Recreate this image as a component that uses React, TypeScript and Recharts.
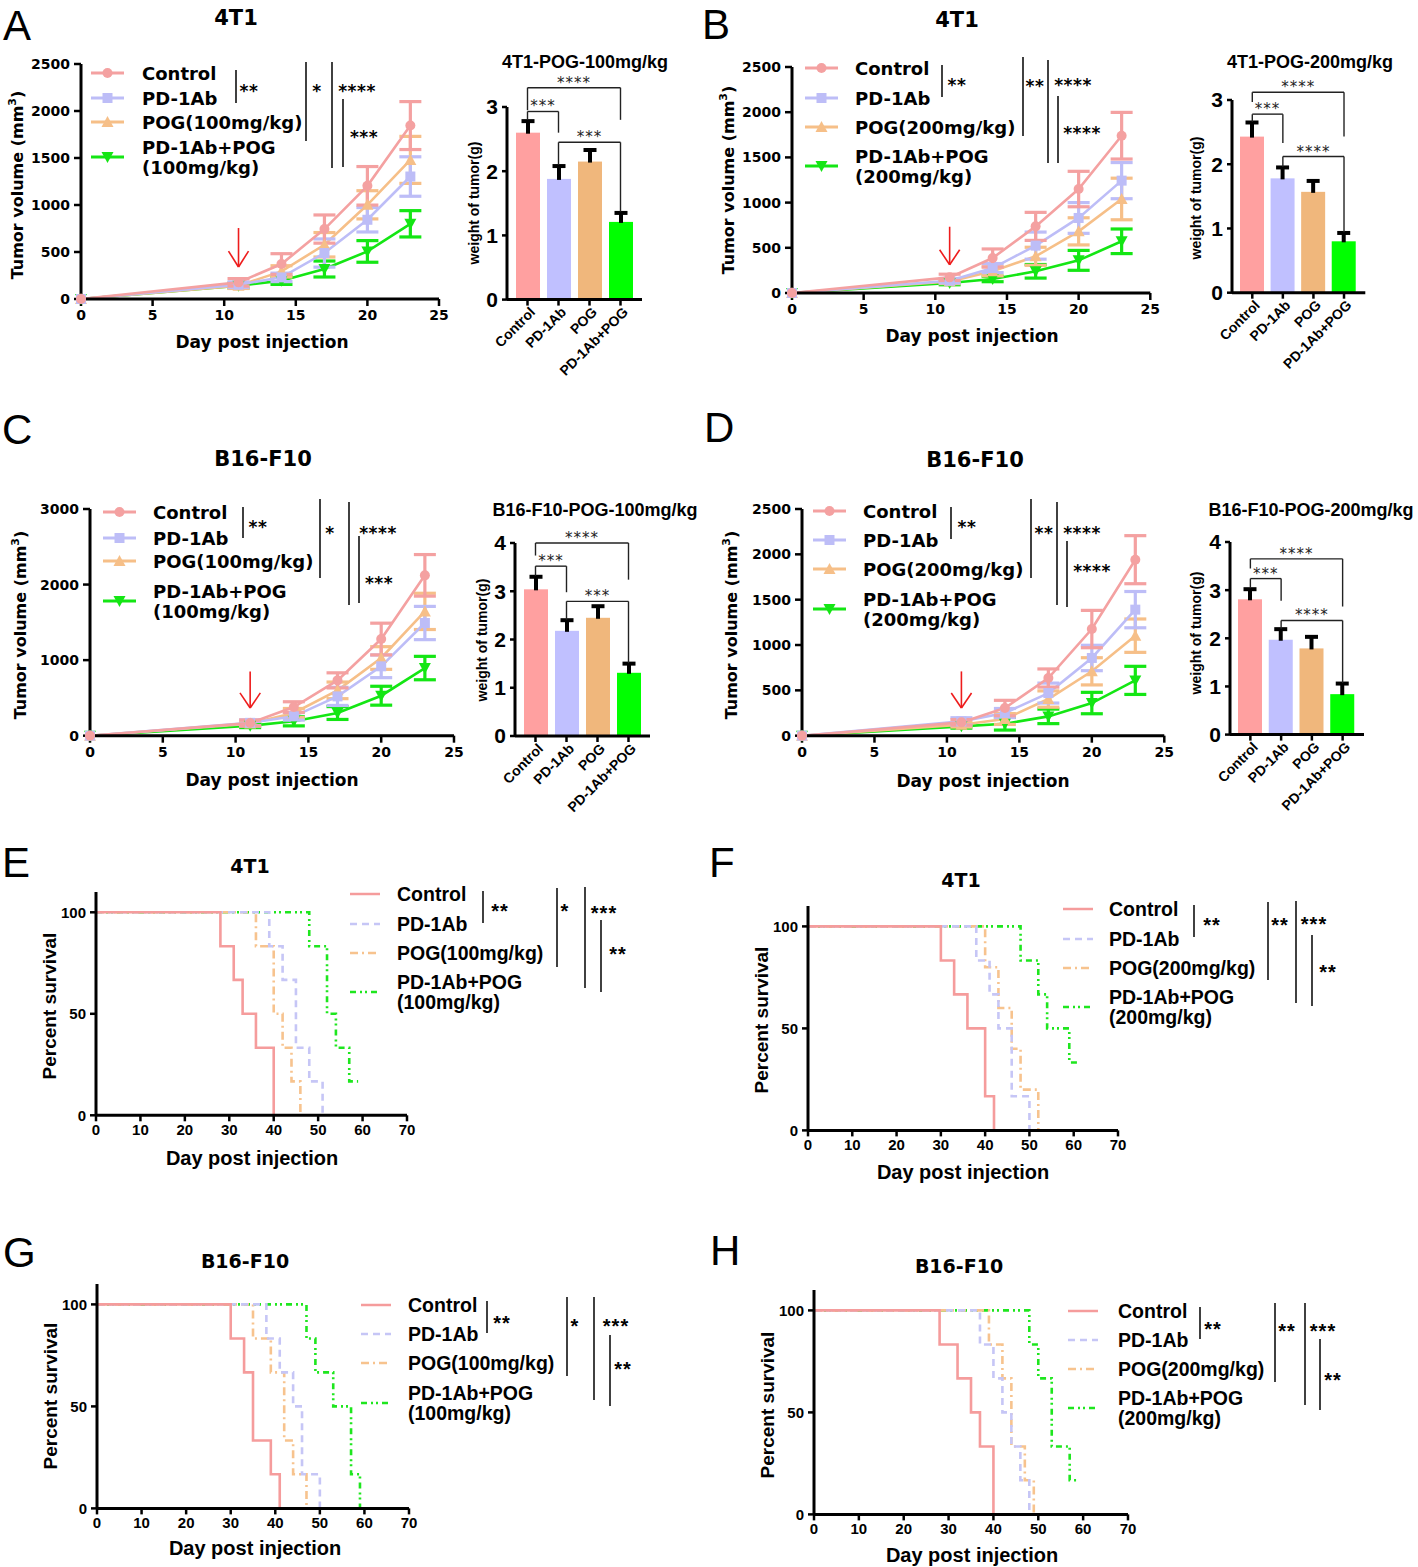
import React from 'react';
import {
  LineChart, Line, XAxis, YAxis, ErrorBar, BarChart, Bar, Cell, ReferenceLine, Legend,
} from 'recharts';

const DV = "'DejaVu Sans', Verdana, sans-serif";
const AR = "'Liberation Sans', Arial, Helvetica, sans-serif";

// ---------- tumor volume (mm3), mean and error ----------
const DAYS = [0, 11, 14, 17, 20, 23];

const A_CONTROL = [0, 177, 372, 744, 1204, 1845];
const A_CONTROL_ERR = [0, 40, 110, 150, 205, 255];
const A_PD1 = [0, 152, 230, 489, 843, 1303];
const A_PD1_ERR = [0, 30, 45, 150, 130, 210];
const A_POG = [0, 142, 294, 577, 1002, 1480];
const A_POG_ERR = [0, 30, 60, 130, 150, 250];
const A_COMBO = [0, 142, 195, 319, 506, 800];
const A_COMBO_ERR = [0, 25, 40, 85, 115, 140];

const B_CONTROL = [0, 173, 387, 737, 1150, 1740];
const B_CONTROL_ERR = [0, 35, 100, 155, 196, 258];
const B_PD1 = [0, 136, 276, 524, 830, 1243];
const B_PD1_ERR = [0, 25, 50, 150, 170, 200];
const B_POG = [0, 129, 240, 406, 682, 1040];
const B_POG_ERR = [0, 25, 50, 100, 150, 230];
const B_COMBO = [0, 111, 155, 240, 361, 572];
const B_COMBO_ERR = [0, 20, 30, 75, 110, 136];

const C_CONTROL = [0, 168, 379, 732, 1279, 2122];
const C_CONTROL_ERR = [0, 40, 70, 100, 210, 275];
const C_PD1 = [0, 170, 256, 520, 918, 1491];
const C_PD1_ERR = [0, 40, 50, 120, 150, 220];
const C_POG = [0, 160, 300, 600, 1028, 1645];
const C_POG_ERR = [0, 30, 60, 110, 150, 240];
const C_COMBO = [0, 132, 190, 300, 529, 895];
const C_COMBO_ERR = [0, 25, 60, 85, 125, 155];

const D_CONTROL = [0, 147, 305, 636, 1176, 1941];
const D_CONTROL_ERR = [0, 30, 85, 100, 206, 265];
const D_PD1 = [0, 158, 250, 470, 857, 1390];
const D_PD1_ERR = [0, 40, 50, 110, 140, 200];
const D_POG = [0, 121, 184, 404, 710, 1103];
const D_POG_ERR = [0, 25, 60, 90, 150, 184];
const D_COMBO = [0, 103, 132, 213, 360, 610];
const D_COMBO_ERR = [0, 20, 70, 80, 118, 155];

// ---------- tumor weight (g) ----------
const GROUPS = ['Control', 'PD-1Ab', 'POG', 'PD-1Ab+POG'];
const A_WEIGHT = [2.6, 1.88, 2.15, 1.21];
const A_WEIGHT_ERR = [0.18, 0.2, 0.18, 0.14];
const B_WEIGHT = [2.43, 1.78, 1.57, 0.8];
const B_WEIGHT_ERR = [0.22, 0.17, 0.17, 0.13];
const C_WEIGHT = [3.04, 2.18, 2.45, 1.31];
const C_WEIGHT_ERR = [0.26, 0.22, 0.24, 0.19];
const D_WEIGHT = [2.81, 1.97, 1.79, 0.84];
const D_WEIGHT_ERR = [0.21, 0.22, 0.24, 0.22];

// significance brackets (between groups, in g)
const A_BRACKETS = [
  { from: 'Control', to: 'PD-1Ab', y: 2.93, y1: 2.8, y2: 2.6, label: '***' },
  { from: 'Control', to: 'PD-1Ab+POG', y: 3.3, y1: 2.95, y2: 2.8, label: '****' },
  { from: 'PD-1Ab', to: 'PD-1Ab+POG', y: 2.45, y1: 2.1, y2: 1.37, label: '***' },
];
const B_BRACKETS = [
  { from: 'Control', to: 'PD-1Ab', y: 2.78, y1: 2.66, y2: 2.33, label: '***' },
  { from: 'Control', to: 'PD-1Ab+POG', y: 3.12, y1: 2.97, y2: 2.43, label: '****' },
  { from: 'PD-1Ab', to: 'PD-1Ab+POG', y: 2.12, y1: 1.96, y2: 0.94, label: '****' },
];
const C_BRACKETS = [
  { from: 'Control', to: 'PD-1Ab', y: 3.52, y1: 3.32, y2: 2.98, label: '***' },
  { from: 'Control', to: 'PD-1Ab+POG', y: 4.0, y1: 3.74, y2: 3.24, label: '****' },
  { from: 'PD-1Ab', to: 'PD-1Ab+POG', y: 2.79, y1: 2.41, y2: 1.51, label: '***' },
];
const D_BRACKETS = [
  { from: 'Control', to: 'PD-1Ab', y: 3.24, y1: 3.04, y2: 2.78, label: '***' },
  { from: 'Control', to: 'PD-1Ab+POG', y: 3.65, y1: 3.45, y2: 2.66, label: '****' },
  { from: 'PD-1Ab', to: 'PD-1Ab+POG', y: 2.37, y1: 2.2, y2: 1.07, label: '****' },
];

// ---------- survival (day, percent) ----------
const E_CONTROL_T = [0, 28, 31, 33, 36, 40];
const E_CONTROL_S = [100, 83.3, 66.7, 50, 33.3, 0];
const E_PD1_T = [0, 39, 42, 45, 48, 51];
const E_PD1_S = [100, 83.3, 66.7, 33.3, 16.7, 0];
const E_POG_T = [0, 36, 40, 42, 44, 46];
const E_POG_S = [100, 83.3, 50, 33.3, 16.7, 0];
const E_COMBO_T = [0, 48, 52, 54, 57, 59];
const E_COMBO_S = [100, 83.3, 50, 33.3, 16.7, 16.7];

const F_CONTROL_T = [0, 30, 33, 36, 40, 42];
const F_CONTROL_S = [100, 83.3, 66.7, 50, 16.7, 0];
const F_PD1_T = [0, 38, 41, 43, 46, 50];
const F_PD1_S = [100, 83.3, 66.7, 50, 16.7, 0];
const F_POG_T = [0, 40, 43, 46, 48, 52];
const F_POG_S = [100, 80, 60, 40, 20, 0];
const F_COMBO_T = [0, 48, 52, 54, 59, 61];
const F_COMBO_S = [100, 83.3, 66.7, 50, 33.3, 33.3];

const G_CONTROL_T = [0, 30, 33, 35, 39, 41];
const G_CONTROL_S = [100, 83.3, 66.7, 33.3, 16.7, 0];
const G_PD1_T = [0, 38, 41, 44, 46, 50];
const G_PD1_S = [100, 83.3, 66.7, 50, 16.7, 0];
const G_POG_T = [0, 35, 39, 42, 44, 47];
const G_POG_S = [100, 83.3, 66.7, 33.3, 16.7, 0];
const G_COMBO_T = [0, 47, 49, 53, 57, 59];
const G_COMBO_S = [100, 83.3, 66.7, 50, 16.7, 0];

const H_CONTROL_T = [0, 28, 32, 35, 37, 40];
const H_CONTROL_S = [100, 83.3, 66.7, 50, 33.3, 0];
const H_PD1_T = [0, 37, 40, 42, 44, 46, 48];
const H_PD1_S = [100, 83.3, 66.7, 50, 33.3, 16.7, 0];
const H_POG_T = [0, 39, 42, 44, 47, 49];
const H_POG_S = [100, 83.3, 66.7, 33.3, 16.7, 0];
const H_COMBO_T = [0, 48, 50, 53, 57, 59];
const H_COMBO_S = [100, 83.3, 66.7, 33.3, 16.7, 16.7];

const GROWTH_X_TICKS = [0, 5, 10, 15, 20, 25];
const SURV_X_TICKS = [0, 10, 20, 30, 40, 50, 60, 70];

// ---------- styles ----------
const KEYS = ['c', 'p', 'g', 'm'];
const SHAPES = ['circle', 'square', 'up', 'down'];
const LINE_COLORS = ['#F4A1A1', '#BDBDF7', '#F6BF88', '#14E614'];
const BAR_COLORS = ['#FFA0A0', '#C0C0FF', '#F0B77C', '#00FF00'];
const SURV_COLORS = ['#F59C9C', '#C6C6F6', '#F7C38E', '#1EE61E'];
const SURV_DASH = [undefined, '7 5', '8 4 2 4', '6 4 2 3 2 4'];
const AXIS = { stroke: '#000', strokeWidth: 3 };
const TICK = { stroke: '#000', strokeWidth: 2.5 };

const growthRows = (means: number[][], errs: number[][]) =>
  DAYS.map((day, i) => {
    const r: any = { day };
    KEYS.forEach((k, j) => {
      r[k] = means[j][i];
      r[k + 'e'] = errs[j][i];
    });
    return r;
  });

const weightRows = (w: number[], e: number[]) => GROUPS.map((group, i) => ({ group, w: w[i], e: e[i] }));
const survRows = (t: number[], s: number[]) => t.map((d, i) => ({ t: d, s: s[i] }));

const Marker = ({ shape, x, y, color, s = 5 }: any) => {
  if (shape === 'circle') return <circle cx={x} cy={y} r={s} fill={color} />;
  if (shape === 'square') return <rect x={x - s} y={y - s} width={2 * s} height={2 * s} fill={color} />;
  if (shape === 'up') return <polygon points={`${x},${y - s - 1} ${x + s + 1},${y + s} ${x - s - 1},${y + s}`} fill={color} />;
  return <polygon points={`${x},${y + s + 1} ${x + s + 1},${y - s} ${x - s - 1},${y - s}`} fill={color} />;
};

const GrowthLegend = ({ rows, dose, textDx }: any) => {
  const labels = ['Control', 'PD-1Ab', `POG(${dose})`, 'PD-1Ab+POG'];
  const top = rows[0] - 14;
  return (
    <svg width={260} height={rows[3] - top + 36} style={{ display: 'block', overflow: 'visible' }}>
      {labels.map((lab, i) => {
        const y = rows[i] - top;
        const my = i === 3 ? y + 10 : y;
        return (
          <g key={lab}>
            <line x1={0} x2={33} y1={my} y2={my} stroke={LINE_COLORS[i]} strokeWidth={3} />
            <Marker shape={SHAPES[i]} x={16.5} y={my} color={LINE_COLORS[i]} />
            <text x={textDx} y={y + 6.5} fontFamily={DV} fontWeight={700} fontSize={18} fill="#000">{lab}</text>
            {i === 3 && (
              <text x={textDx} y={y + 26.5} fontFamily={DV} fontWeight={700} fontSize={18} fill="#000">({dose})</text>
            )}
          </g>
        );
      })}
    </svg>
  );
};

const SurvLegend = ({ rows, dose, textDx }: any) => {
  const labels = ['Control', 'PD-1Ab', `POG(${dose})`, 'PD-1Ab+POG'];
  const top = rows[0] - 14;
  return (
    <svg width={260} height={rows[3] - top + 36} style={{ display: 'block', overflow: 'visible' }}>
      {labels.map((lab, i) => {
        const y = rows[i] - top;
        const my = i === 3 ? y + 10 : y;
        return (
          <g key={lab}>
            <line x1={0} x2={30} y1={my} y2={my} stroke={SURV_COLORS[i]} strokeWidth={2.5} strokeDasharray={SURV_DASH[i]} />
            <text x={textDx} y={y + 7} fontFamily={AR} fontWeight={700} fontSize={19.5} fill="#000">{lab}</text>
            {i === 3 && (
              <text x={textDx} y={y + 27} fontFamily={AR} fontWeight={700} fontSize={19.5} fill="#000">({dose})</text>
            )}
          </g>
        );
      })}
    </svg>
  );
};

function GrowthChart({ cfg }: any) {
  const { x0, x1, yTop, yBottom } = cfg.box;
  const YW = 64, MT = 14, MR = 14, XH = 36;
  const left = x0 - YW;
  const top = yTop - MT;
  const width = YW + (x1 - x0) + MR;
  const height = MT + (yBottom - yTop) + XH;
  const a = cfg.arrow;
  const arrowStyle = { stroke: '#EE1C1C', strokeWidth: 1.6 };
  return (
    <div style={{ position: 'absolute', left, top, width, height }}>
      <LineChart width={width} height={height} data={cfg.rows} margin={{ top: MT, right: MR, left: 0, bottom: 0 }}>
        <XAxis
          dataKey="day" type="number" domain={[0, 25]} ticks={GROWTH_X_TICKS} interval={0}
          height={XH} tickSize={7} tickMargin={4} axisLine={AXIS} tickLine={TICK}
          tick={{ fill: '#000', fontSize: 14, fontWeight: 700, fontFamily: DV }}
        />
        <YAxis
          type="number" domain={[0, cfg.yMax]} ticks={cfg.yTicks} interval={0}
          width={YW} tickSize={7} tickMargin={4} axisLine={AXIS} tickLine={TICK}
          tick={{ fill: '#000', fontSize: 14, fontWeight: 700, fontFamily: DV }}
        />
        <ReferenceLine segment={[{ x: 11, y: a.top }, { x: 11, y: a.tip }]} {...arrowStyle} />
        <ReferenceLine segment={[{ x: 10.3, y: a.tip + a.head }, { x: 11, y: a.tip }]} {...arrowStyle} />
        <ReferenceLine segment={[{ x: 11.7, y: a.tip + a.head }, { x: 11, y: a.tip }]} {...arrowStyle} />
        {[3, 2, 1, 0].map((j) => (
          <Line
            key={KEYS[j]} dataKey={KEYS[j]} type="linear" stroke={LINE_COLORS[j]} strokeWidth={2.6}
            isAnimationActive={false} activeDot={false}
            dot={(p: any) => <Marker key={`${KEYS[j]}-${p.index}`} shape={SHAPES[j]} x={p.cx} y={p.cy} color={LINE_COLORS[j]} />}
          >
            <ErrorBar dataKey={KEYS[j] + 'e'} direction="y" width={11} strokeWidth={3.2} stroke={LINE_COLORS[j]} />
          </Line>
        ))}
        <Legend
          layout="vertical" align="center" verticalAlign="middle"
          wrapperStyle={{ left: cfg.legend.lineX - left, top: cfg.legend.rows[0] - 14 - top }}
          content={() => <GrowthLegend rows={cfg.legend.rows} dose={cfg.dose} textDx={cfg.legend.textX - cfg.legend.lineX} />}
        />
      </LineChart>
    </div>
  );
}

const WeightBar = (props: any) => {
  const { x, y, width, height, fill, payload } = props;
  if (!payload || !payload.w) return <g />;
  const k = height / payload.w;
  const errTop = y - payload.e * k;
  const cx = x + width / 2;
  return (
    <g>
      <rect x={x} y={y} width={width} height={height} fill={fill} />
      <line x1={cx} x2={cx} y1={y + 1} y2={errTop} stroke="#000" strokeWidth={4} />
      <line x1={cx - 6.5} x2={cx + 6.5} y1={errTop} y2={errTop} stroke="#000" strokeWidth={4} />
    </g>
  );
};

const CatTick = ({ x, y, payload }: any) => (
  <g transform={`translate(${x + 5},${y + 2}) rotate(-45)`}>
    <text x={0} y={0} dy="0.35em" textAnchor="end" fontFamily={AR} fontWeight={700} fontSize={14} fill="#000">
      {payload.value}
    </text>
  </g>
);

function WeightChart({ cfg }: any) {
  const { x0, x1, yTop, yBottom } = cfg.box;
  const YW = 40, MT = 40, MR = 8, XH = 100;
  const left = x0 - YW;
  const top = yTop - MT;
  const width = YW + (x1 - x0) + MR;
  const height = MT + (yBottom - yTop) + XH;
  const line = { stroke: '#222', strokeWidth: 1.4, ifOverflow: 'visible' as const };
  const yTicks = Array.from({ length: cfg.yMax + 1 }, (_, i) => i);
  return (
    <div style={{ position: 'absolute', left, top, width, height }}>
      <BarChart width={width} height={height} data={cfg.rows} margin={{ top: MT, right: MR, left: 0, bottom: 0 }}>
        <XAxis
          dataKey="group" type="category" interval={0} padding={{ left: 5, right: 6 }}
          height={XH} tickSize={6} tickMargin={2} axisLine={AXIS} tickLine={TICK} tick={<CatTick />}
        />
        <YAxis
          type="number" domain={[0, cfg.yMax]} ticks={yTicks} interval={0}
          width={YW} tickSize={5} tickMargin={4} axisLine={AXIS} tickLine={TICK}
          tick={{ fill: '#000', fontSize: 21, fontWeight: 700, fontFamily: AR }}
        />
        <Bar dataKey="w" barSize={24} shape={<WeightBar />} isAnimationActive={false}>
          {cfg.rows.map((r: any, i: number) => <Cell key={r.group} fill={BAR_COLORS[i]} />)}
        </Bar>
        {cfg.brackets.map((b: any, i: number) => (
          <ReferenceLine
            key={`h${i}`} segment={[{ x: b.from, y: b.y }, { x: b.to, y: b.y }]} {...line}
            label={{ value: b.label, position: 'top', offset: 0, fontSize: 15, fill: '#222', fontFamily: DV, letterSpacing: 1 }}
          />
        ))}
        {cfg.brackets.map((b: any, i: number) => (
          <ReferenceLine key={`l${i}`} segment={[{ x: b.from, y: b.y }, { x: b.from, y: b.y1 }]} {...line} />
        ))}
        {cfg.brackets.map((b: any, i: number) => (
          <ReferenceLine key={`r${i}`} segment={[{ x: b.to, y: b.y }, { x: b.to, y: b.y2 }]} {...line} />
        ))}
      </BarChart>
    </div>
  );
}

function SurvivalChart({ cfg }: any) {
  const { x0, x1, yTop, yBottom } = cfg.box;
  const YW = 46, MT = 10, MR = 14, XH = 32;
  const left = x0 - YW;
  const top = yTop - MT;
  const width = YW + (x1 - x0) + MR;
  const height = MT + (yBottom - yTop) + XH;
  return (
    <div style={{ position: 'absolute', left, top, width, height }}>
      <LineChart width={width} height={height} margin={{ top: MT, right: MR, left: 0, bottom: 0 }}>
        <XAxis
          dataKey="t" type="number" domain={[0, 70]} ticks={SURV_X_TICKS} interval={0}
          height={XH} tickSize={6} tickMargin={3} axisLine={AXIS} tickLine={TICK}
          tick={{ fill: '#000', fontSize: 15, fontWeight: 700, fontFamily: AR }}
        />
        <YAxis
          type="number" domain={[0, 110]} ticks={[0, 50, 100]} interval={0}
          width={YW} tickSize={6} tickMargin={4} axisLine={AXIS} tickLine={TICK}
          tick={{ fill: '#000', fontSize: 15, fontWeight: 700, fontFamily: AR }}
        />
        {[3, 2, 1, 0].map((j) => (
          <Line
            key={KEYS[j]} data={cfg.curves[j]} dataKey="s" type="stepAfter"
            stroke={SURV_COLORS[j]} strokeWidth={2.6} strokeDasharray={SURV_DASH[j]}
            dot={false} activeDot={false} isAnimationActive={false}
          />
        ))}
        <Legend
          layout="vertical" align="center" verticalAlign="middle"
          wrapperStyle={{ left: cfg.legend.lineX - left, top: cfg.legend.rows[0] - 14 - top }}
          content={() => <SurvLegend rows={cfg.legend.rows} dose={cfg.dose} textDx={cfg.legend.textX - cfg.legend.lineX} />}
        />
      </LineChart>
    </div>
  );
}

// ---------- panel configs ----------
const GROWTH = [
  {
    rows: growthRows([A_CONTROL, A_PD1, A_POG, A_COMBO], [A_CONTROL_ERR, A_PD1_ERR, A_POG_ERR, A_COMBO_ERR]),
    box: { x0: 81, x1: 439, yTop: 64, yBottom: 299 }, yMax: 2500, yTicks: [0, 500, 1000, 1500, 2000, 2500],
    dose: '100mg/kg', legend: { lineX: 91, textX: 142, rows: [73, 98, 122, 147] },
    arrow: { top: 755, tip: 340, head: 170 },
  },
  {
    rows: growthRows([B_CONTROL, B_PD1, B_POG, B_COMBO], [B_CONTROL_ERR, B_PD1_ERR, B_POG_ERR, B_COMBO_ERR]),
    box: { x0: 791.7, x1: 1150, yTop: 67.3, yBottom: 293.3 }, yMax: 2500, yTicks: [0, 500, 1000, 1500, 2000, 2500],
    dose: '200mg/kg', legend: { lineX: 805, textX: 855, rows: [68, 98, 127, 156] },
    arrow: { top: 733, tip: 313, head: 165 },
  },
  {
    rows: growthRows([C_CONTROL, C_PD1, C_POG, C_COMBO], [C_CONTROL_ERR, C_PD1_ERR, C_POG_ERR, C_COMBO_ERR]),
    box: { x0: 90, x1: 454, yTop: 509.3, yBottom: 736 }, yMax: 3000, yTicks: [0, 1000, 2000, 3000],
    dose: '100mg/kg', legend: { lineX: 103, textX: 153, rows: [512, 538, 561, 591] },
    arrow: { top: 851, tip: 366, head: 200 },
  },
  {
    rows: growthRows([D_CONTROL, D_PD1, D_POG, D_COMBO], [D_CONTROL_ERR, D_PD1_ERR, D_POG_ERR, D_COMBO_ERR]),
    box: { x0: 801.7, x1: 1164, yTop: 509.3, yBottom: 736 }, yMax: 2500, yTicks: [0, 500, 1000, 1500, 2000, 2500],
    dose: '200mg/kg', legend: { lineX: 813, textX: 863, rows: [511, 540, 569, 599] },
    arrow: { top: 709, tip: 305, head: 165 },
  },
];

const WEIGHT = [
  { rows: weightRows(A_WEIGHT, A_WEIGHT_ERR), brackets: A_BRACKETS, yMax: 3, box: { x0: 507, x1: 642, yTop: 106.7, yBottom: 299.3 } },
  { rows: weightRows(B_WEIGHT, B_WEIGHT_ERR), brackets: B_BRACKETS, yMax: 3, box: { x0: 1231.7, x1: 1365, yTop: 100, yBottom: 292.7 } },
  { rows: weightRows(C_WEIGHT, C_WEIGHT_ERR), brackets: C_BRACKETS, yMax: 4, box: { x0: 515, x1: 650, yTop: 542.7, yBottom: 735.7 } },
  { rows: weightRows(D_WEIGHT, D_WEIGHT_ERR), brackets: D_BRACKETS, yMax: 4, box: { x0: 1230, x1: 1364, yTop: 541.7, yBottom: 734.3 } },
];

const SURVIVAL = [
  {
    curves: [survRows(E_CONTROL_T, E_CONTROL_S), survRows(E_PD1_T, E_PD1_S), survRows(E_POG_T, E_POG_S), survRows(E_COMBO_T, E_COMBO_S)],
    box: { x0: 96, x1: 407, yTop: 891.7, yBottom: 1115 }, dose: '100mg/kg',
    legend: { lineX: 350, textX: 397, rows: [894, 924, 953, 982] },
  },
  {
    curves: [survRows(F_CONTROL_T, F_CONTROL_S), survRows(F_PD1_T, F_PD1_S), survRows(F_POG_T, F_POG_S), survRows(F_COMBO_T, F_COMBO_S)],
    box: { x0: 808, x1: 1118, yTop: 905.6, yBottom: 1130 }, dose: '200mg/kg',
    legend: { lineX: 1063, textX: 1109, rows: [909, 939, 968, 997] },
  },
  {
    curves: [survRows(G_CONTROL_T, G_CONTROL_S), survRows(G_PD1_T, G_PD1_S), survRows(G_POG_T, G_POG_S), survRows(G_COMBO_T, G_COMBO_S)],
    box: { x0: 97, x1: 409, yTop: 1283.6, yBottom: 1508 }, dose: '100mg/kg',
    legend: { lineX: 361, textX: 408, rows: [1305, 1334, 1363, 1393] },
  },
  {
    curves: [survRows(H_CONTROL_T, H_CONTROL_S), survRows(H_PD1_T, H_PD1_S), survRows(H_POG_T, H_POG_S), survRows(H_COMBO_T, H_COMBO_S)],
    box: { x0: 814, x1: 1128, yTop: 1289.6, yBottom: 1514 }, dose: '200mg/kg',
    legend: { lineX: 1068, textX: 1118, rows: [1311, 1340, 1369, 1398] },
  },
];

// ---------- figure annotations (page coordinates) ----------
const LETTERS: [string, number, number][] = [
  ['A', 3, 40], ['B', 702, 39], ['C', 2, 444], ['D', 704, 442],
  ['E', 2, 877], ['F', 709, 877], ['G', 3, 1267], ['H', 710, 1265],
];
const GROWTH_TITLES: [string, number, number][] = [
  ['4T1', 236, 25], ['4T1', 957, 27], ['B16-F10', 263, 466], ['B16-F10', 975, 467],
];
const SURV_TITLES: [string, number, number][] = [
  ['4T1', 250, 873], ['4T1', 961, 887], ['B16-F10', 245, 1268], ['B16-F10', 959, 1273],
];
const BAR_TITLES: [string, number, number][] = [
  ['4T1-POG-100mg/kg', 585, 68], ['4T1-POG-200mg/kg', 1310, 68],
  ['B16-F10-POG-100mg/kg', 595, 516], ['B16-F10-POG-200mg/kg', 1311, 516],
];
const GROWTH_YLAB: [number, number][] = [[17, 185], [728, 180], [20, 625], [731, 625]];
const GROWTH_XLAB: [number, number][] = [[262, 348], [972, 342], [272, 786], [983, 787]];
const BAR_YLAB: [number, number][] = [[474, 203], [1196, 198], [482, 640], [1196, 633]];
const SURV_YLAB: [number, number][] = [[49, 1006], [761, 1020], [50, 1396], [767, 1405]];
const SURV_XLAB: [number, number][] = [[252, 1165], [963, 1179], [255, 1555], [972, 1562]];

const GROWTH_SIG = [
  { lines: [[236, 70, 103], [306, 62, 141], [332, 62, 168], [343, 99, 167]], texts: [['**', 249, 88], ['*', 317, 88], ['****', 357, 88], ['***', 364, 134]] },
  { lines: [[942, 65, 97], [1023, 57, 136], [1048, 60, 163], [1058, 96, 163]], texts: [['**', 957, 82], ['**', 1035, 83], ['****', 1073, 82], ['****', 1082, 130]] },
  { lines: [[243, 507, 538], [320, 499, 578], [349, 502, 605], [359, 536, 603]], texts: [['**', 258, 524], ['*', 330, 530], ['****', 378, 530], ['***', 379, 580]] },
  { lines: [[951, 507, 539], [1031, 499, 578], [1057, 502, 605], [1067, 541, 607]], texts: [['**', 967, 524], ['**', 1044, 530], ['****', 1082, 530], ['****', 1092, 568]] },
];
const SURV_SIG = [
  { lines: [[483, 891, 923], [557, 888, 967], [585, 887, 988], [601, 920, 992]], texts: [['**', 500, 908], ['*', 565, 908], ['***', 604, 910], ['**', 618, 951]] },
  { lines: [[1194, 905, 937], [1268, 902, 980], [1296, 901, 1003], [1312, 935, 1006]], texts: [['**', 1212, 922], ['**', 1280, 922], ['***', 1314, 921], ['**', 1328, 969]] },
  { lines: [[487, 1301, 1333], [567, 1297, 1376], [594, 1297, 1400], [610, 1335, 1406]], texts: [['**', 502, 1320], ['*', 575, 1323], ['***', 616, 1323], ['**', 623, 1366]] },
  { lines: [[1200, 1307, 1339], [1275, 1303, 1382], [1305, 1303, 1405], [1320, 1339, 1410]], texts: [['**', 1213, 1326], ['**', 1287, 1328], ['***', 1323, 1328], ['**', 1333, 1377]] },
];

const Overlay = () => (
  <svg width={1418} height={1567} style={{ position: 'absolute', left: 0, top: 0, pointerEvents: 'none' }}>
    {LETTERS.map(([t, x, y]) => (
      <text key={t} x={x} y={y} fontFamily={AR} fontSize={42} fill="#000">{t}</text>
    ))}
    {GROWTH_TITLES.map(([t, x, y], i) => (
      <text key={`gt${i}`} x={x} y={y} textAnchor="middle" fontFamily={DV} fontWeight={700} fontSize={21}>{t}</text>
    ))}
    {SURV_TITLES.map(([t, x, y], i) => (
      <text key={`st${i}`} x={x} y={y} textAnchor="middle" fontFamily={DV} fontWeight={700} fontSize={19}>{t}</text>
    ))}
    {BAR_TITLES.map(([t, x, y], i) => (
      <text key={`bt${i}`} x={x} y={y} textAnchor="middle" fontFamily={AR} fontWeight={700} fontSize={18}>{t}</text>
    ))}
    {GROWTH_YLAB.map(([x, y], i) => (
      <text key={`gy${i}`} transform={`translate(${x + 6},${y}) rotate(-90)`} textAnchor="middle" fontFamily={DV} fontWeight={700} fontSize={16}>
        Tumor volume (mm<tspan dy={-7} fontSize={11}>3</tspan><tspan dy={7}>)</tspan>
      </text>
    ))}
    {GROWTH_XLAB.map(([x, y], i) => (
      <text key={`gx${i}`} x={x} y={y} textAnchor="middle" fontFamily={DV} fontWeight={700} fontSize={17}>Day post injection</text>
    ))}
    {BAR_YLAB.map(([x, y], i) => (
      <text key={`by${i}`} transform={`translate(${x + 5},${y}) rotate(-90)`} textAnchor="middle" fontFamily={AR} fontWeight={700} fontSize={14}>weight of tumor(g)</text>
    ))}
    {SURV_YLAB.map(([x, y], i) => (
      <text key={`sy${i}`} transform={`translate(${x + 7},${y}) rotate(-90)`} textAnchor="middle" fontFamily={AR} fontWeight={700} fontSize={19}>Percent survival</text>
    ))}
    {SURV_XLAB.map(([x, y], i) => (
      <text key={`sx${i}`} x={x} y={y} textAnchor="middle" fontFamily={AR} fontWeight={700} fontSize={20}>Day post injection</text>
    ))}
    {GROWTH_SIG.map((p, i) => (
      <g key={`gs${i}`}>
        {p.lines.map(([x, y1, y2], k) => <line key={k} x1={x} x2={x} y1={y1} y2={y2} stroke="#111" strokeWidth={1.6} />)}
        {p.texts.map(([t, x, y], k) => (
          <text key={`t${k}`} x={x as number} y={(y as number) + 9} textAnchor="middle" fontFamily={DV} fontWeight={700} fontSize={17} letterSpacing={0.5}>{t}</text>
        ))}
      </g>
    ))}
    {SURV_SIG.map((p, i) => (
      <g key={`ss${i}`}>
        {p.lines.map(([x, y1, y2], k) => <line key={k} x1={x} x2={x} y1={y1} y2={y2} stroke="#111" strokeWidth={1.6} />)}
        {p.texts.map(([t, x, y], k) => (
          <text key={`t${k}`} x={x as number} y={(y as number) + 10} textAnchor="middle" fontFamily={AR} fontWeight={700} fontSize={20} letterSpacing={1}>{t}</text>
        ))}
      </g>
    ))}
  </svg>
);

export default function App() {
  return (
    <div style={{ position: 'absolute', left: 0, top: 0, width: 1418, height: 1567, background: '#fff', overflow: 'hidden' }}>
      {GROWTH.map((cfg, i) => <GrowthChart key={`g${i}`} cfg={cfg} />)}
      {WEIGHT.map((cfg, i) => <WeightChart key={`w${i}`} cfg={cfg} />)}
      {SURVIVAL.map((cfg, i) => <SurvivalChart key={`s${i}`} cfg={cfg} />)}
      <Overlay />
    </div>
  );
}
